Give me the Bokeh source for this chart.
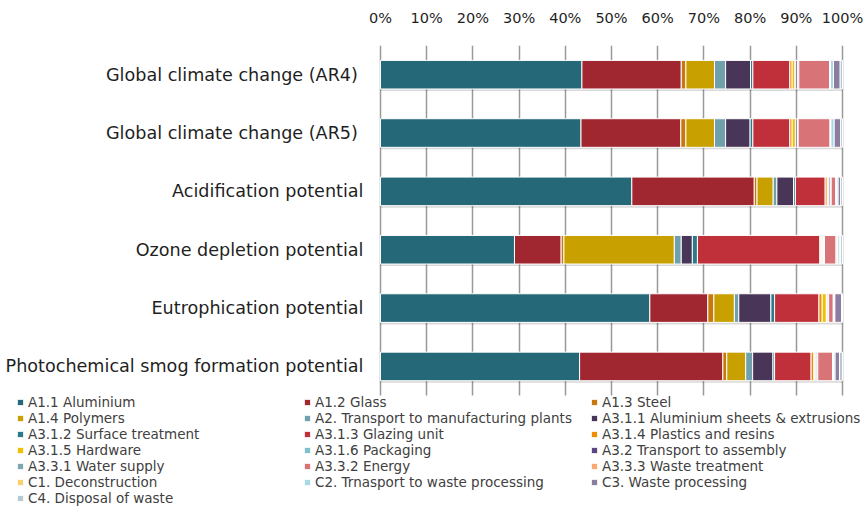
from bokeh.plotting import figure
from bokeh.models import (Range1d, Legend, LegendItem, FixedTicker,
                          PrintfTickFormatter, ColumnDataSource)
from bokeh.core.properties import value
from bokeh.transform import dodge
from bokeh.embed import file_html
from bokeh.resources import INLINE

# ---------------- data ----------------
categories = [
    "Global climate change  (AR4)",
    "Global climate change  (AR5)",
    "Acidification potential",
    "Ozone depletion potential",
    "Eutrophication potential",
    "Photochemical smog formation potential",
]

series = [
    "A1.1 Aluminium", "A1.2 Glass", "A1.3 Steel",
    "A1.4 Polymers", "A2. Transport to manufacturing plants", "A3.1.1 Aluminium sheets & extrusions",
    "A3.1.2 Surface treatment", "A3.1.3 Glazing unit", "A3.1.4 Plastics and resins",
    "A3.1.5 Hardware", "A3.1.6 Packaging", "A3.2 Transport to assembly",
    "A3.3.1 Water supply", "A3.3.2 Energy", "A3.3.3 Waste treatment",
    "C1. Deconstruction", "C2. Trnasport to waste processing", "C3. Waste processing",
    "C4. Disposal of waste",
]

colors = [
    "#256878", "#A02630", "#C8780E",
    "#C8A000", "#70A0AC", "#483558",
    "#2B7A8A", "#C0303A", "#F08C00",
    "#F0C000", "#80C0CC", "#5A4682",
    "#7FA5B0", "#D87378", "#F8A870",
    "#F8D070", "#A8D8E4", "#8C7CA0",
    "#B8C8D0",
]

# percentage shares per impact category (same order as `series`)
gcc_ar4 = [43.6, 21.5, 1.0, 6.2, 2.4, 5.4, 0.5, 8.0, 0.5, 0.6, 0.2, 0.4, 0.25, 6.65, 0.1, 0.1, 0.65, 1.45, 0.5]
gcc_ar5 = [43.4, 21.6, 1.1, 6.2, 2.4, 5.3, 0.6, 8.0, 0.5, 0.7, 0.1, 0.35, 0.15, 6.9, 0.1, 0.1, 0.7, 1.4, 0.4]
acidification = [54.4, 26.5, 0.6, 3.5, 0.8, 3.6, 0.4, 6.45, 0.45, 0.2, 0.15, 0.3, 0.2, 1.0, 0.1, 0.1, 0.3, 0.55, 0.4]
ozone = [29.0, 10.1, 0.6, 23.9, 1.5, 2.4, 1.1, 26.5, 0.2, 0.2, 0.2, 0.2, 0.2, 2.5, 0.2, 0.2, 0.4, 0.2, 0.4]
eutrophication = [58.3, 12.55, 1.3, 4.45, 0.95, 6.95, 0.8, 9.6, 0.7, 0.9, 0.15, 0.2, 0.15, 1.0, 0.1, 0.1, 0.15, 1.45, 0.2]
smog = [43.1, 31.0, 0.85, 4.1, 1.5, 4.4, 0.35, 7.9, 0.6, 0.2, 0.2, 0.25, 0.2, 3.2, 0.1, 0.1, 0.35, 0.95, 0.65]

x_ticks = list(range(0, 101, 10))

# ---------------- build ----------------
rows = [gcc_ar4, gcc_ar5, acidification, ozone, eutrophication, smog]
n = len(categories)
keys = [f"s{i}" for i in range(len(series))]
data = {"cat": categories,
        "y": [n - 1 - i for i in range(n)],          # first category on top
        "total": [sum(r) for r in rows]}
for i, k in enumerate(keys):
    data[k] = [r[i] for r in rows]
src = ColumnDataSource(data)

FONT = "DejaVu Sans"
W, H = 864, 506
PLOT_L, PLOT_R = 380, 842        # pixel extent of the 0-100 % scale
TOP = 45                         # top of bar area
ROW_PX = 58.35                   # pixel height of one category row
px_per_unit = (PLOT_R - PLOT_L) / 100.0
x0 = -PLOT_L / px_per_unit
x1 = x0 + W / px_per_unit
y_top = n - 0.5
y_bot = y_top - (H - TOP) / ROW_PX

p = figure(width=W, height=H,
           x_range=Range1d(x0, x1), y_range=Range1d(y_bot, y_top),
           x_axis_location="above", y_axis_type=None,
           output_backend="svg", toolbar_location=None,
           min_border_left=0, min_border_right=0,
           min_border_top=TOP, min_border_bottom=0)
p.outline_line_color = None
p.background_fill_color = "white"

# vertical grid lines limited to the bar area
p.ygrid.grid_line_color = None
p.xgrid.grid_line_color = "#999999"
p.xgrid.grid_line_width = 1.5
try:
    p.xgrid.cross_bounds = (-0.5, n - 0.5)
except Exception:
    p.xgrid.grid_line_color = None
    p.segment(x0=x_ticks, x1=x_ticks, y0=[-0.5] * len(x_ticks), y1=[n - 0.5] * len(x_ticks),
              line_color="#999999", line_width=1.5)

# soft shadow under bars
p.hbar(y=dodge("y", -0.035), left=0, right="total", height=0.49,
       fill_color="#000000", fill_alpha=0.15, line_color=None, source=src)

renderers = p.hbar_stack(keys, y="y", height=0.49, color=colors,
                         line_color="white", line_width=1, source=src)

# category labels
p.text(x=0, y="y", text="cat", source=src, x_offset=-17,
       text_align="right", text_baseline="middle",
       text_font=value(FONT), text_font_size="17.6px", text_color="#1f1f1f")

# top axis
xa = p.xaxis[0]
xa.ticker = FixedTicker(ticks=x_ticks)
xa.formatter = PrintfTickFormatter(format="%d%%")
xa.axis_line_color = None
xa.major_tick_line_color = None
xa.minor_tick_line_color = None
xa.major_label_standoff = 14
xa.major_label_text_font = FONT
xa.major_label_text_font_size = "14.5px"
xa.major_label_text_color = "#1f1f1f"

# legend: three columns, row-major order; one Legend per row for exact row pitch
items = [LegendItem(label=name, renderers=[r]) for name, r in zip(series, renderers)]
ITEM_H = 16          # legend row box height
FIRST_ROW = 402      # centre of first legend row (px from top)
ROW_PITCH = 16
for r_i, start in enumerate(range(0, len(items), 3)):
    centre = FIRST_ROW + ROW_PITCH * r_i
    vy = (H - centre) - ITEM_H / 2
    leg = Legend(items=items[start:start + 3], location=(16, vy),
                 orientation="horizontal",
                 label_text_font=FONT, label_text_font_size="13.5px",
                 label_text_color="#404040", glyph_width=8, glyph_height=8,
                 label_standoff=4, spacing=0, padding=0, margin=0,
                 label_height=ITEM_H, label_width=275,
                 border_line_alpha=0, background_fill_alpha=0)
    p.add_layout(leg)

open("out.html", "w").write(file_html(p, INLINE))
